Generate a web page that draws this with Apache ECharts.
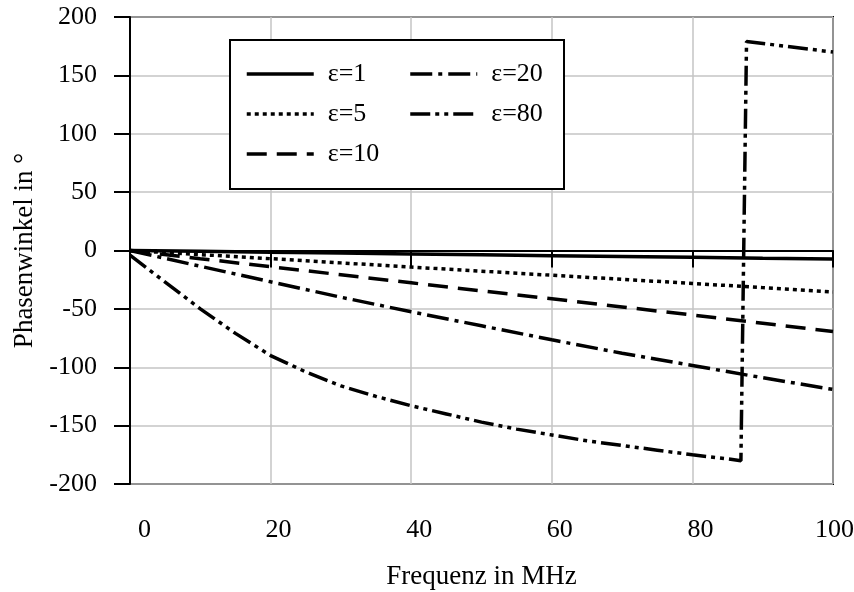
<!DOCTYPE html>
<html><head><meta charset="utf-8">
<script src="https://cdn.jsdelivr.net/npm/echarts@6/dist/echarts.min.js"></script>
<style>html,body{margin:0;padding:0;background:#fff}#c{width:854px;height:592px}</style>
</head><body><div id="c"></div>
<script>
const freq = [0, 10, 20, 30, 40, 50, 60, 70, 80, 90, 100];
const eps1 = [0, -0.7, -1.4, -2.2, -2.9, -3.6, -4.4, -5.1, -5.8, -6.6, -7.3];
const eps5 = [0, -3.5, -7, -10.6, -14.2, -17.7, -21.2, -24.7, -28.2, -31.8, -35.5];
const eps10 = [0, -7, -13.9, -20.8, -27.7, -34.6, -41.4, -48.3, -55.3, -62.3, -69.4];
const eps20 = [0, -13.5, -26.8, -40, -52.5, -64.5, -76.5, -88, -98.5, -109, -119];
const freq80 = [0, 5, 10, 15, 20, 25, 30, 35, 40, 45, 50, 55, 60, 65, 70, 75, 80, 85, 86.9, 87.7, 100];
const eps80 = [-4, -27, -50, -71, -90, -104, -116, -125, -133, -140, -147, -153, -158, -163, -167, -171, -175, -178.5, -180, 179, 170];
const seriesNames = ['ε=1', 'ε=5', 'ε=10', 'ε=20', 'ε=80'];
const xTicks = {min: 0, max: 100, interval: 20};
const yTicks = {min: -200, max: 200, interval: 50};

const pairs = (xs, ys) => xs.map((x, i) => [x, ys[i]]);
const font = 'Liberation Serif';
const dashes = ['solid', [4, 4], [20, 10], [22, 6, 4, 6], [20, 5, 4, 5, 4, 5]];
const datasets = [pairs(freq, eps1), pairs(freq, eps5), pairs(freq, eps10), pairs(freq, eps20), pairs(freq80, eps80)];

const chart = echarts.init(document.getElementById('c'), null, {renderer: 'canvas'});
chart.setOption({
  animation: false,
  backgroundColor: '#fff',
  grid: {left: 130, right: 21, top: 17, bottom: 108, show: true, borderColor: '#000', borderWidth: 2, backgroundColor: 'transparent', containLabel: false, outerBoundsMode: 'none'},
  legend: {
    left: 230, top: 40, orient: 'vertical', height: 128,
    data: seriesNames,
    itemWidth: 67, itemHeight: 14, itemGap: 14,
    padding: [21, 6, 22, 15],
    borderColor: '#000', borderWidth: 2, backgroundColor: '#fff',
    itemStyle: {opacity: 0},
    lineStyle: {width: 3.5},
    formatter: n => n + '\u00a0\u00a0\u200a',
    textStyle: {fontFamily: font, fontSize: 26, color: '#000', padding: [0, 0, 0, 9]},
    inactiveColor: '#000'
  },
  xAxis: {
    type: 'value', min: xTicks.min, max: xTicks.max, interval: xTicks.interval,
    name: 'Frequenz in MHz', nameLocation: 'middle', nameGap: 79,
    nameTextStyle: {fontFamily: font, fontSize: 27, color: '#000'},
    axisLine: {show: true, lineStyle: {color: '#000', width: 2}},
    axisTick: {show: true, inside: false, length: 17, lineStyle: {color: '#000', width: 2}},
    axisLabel: {fontFamily: font, fontSize: 26, color: '#000', margin: 33, align: 'right', padding: [0, -21, 0, 0]},
    splitLine: {show: true, lineStyle: {color: '#c4c4c4', width: 1.5}}
  },
  yAxis: {
    type: 'value', min: yTicks.min, max: yTicks.max, interval: yTicks.interval,
    name: 'Phasenwinkel in °', nameLocation: 'middle', nameGap: 92,
    nameTextStyle: {fontFamily: font, fontSize: 27, color: '#000'},
    axisLine: {show: true, lineStyle: {color: '#000', width: 2}},
    axisTick: {show: true, inside: false, length: 16, lineStyle: {color: '#000', width: 2}},
    axisLabel: {fontFamily: font, fontSize: 26, color: '#000', margin: 33},
    splitLine: {show: true, lineStyle: {color: '#c4c4c4', width: 1.5}}
  },
  series: seriesNames.map((n, i) => ({
    name: n, type: 'line', data: datasets[i], symbol: 'none', smooth: false,
    lineStyle: {color: '#000', width: 3.5, type: dashes[i], cap: 'butt'},
    itemStyle: {color: '#000'},
    z: 3
  }))
});
</script></body></html>
